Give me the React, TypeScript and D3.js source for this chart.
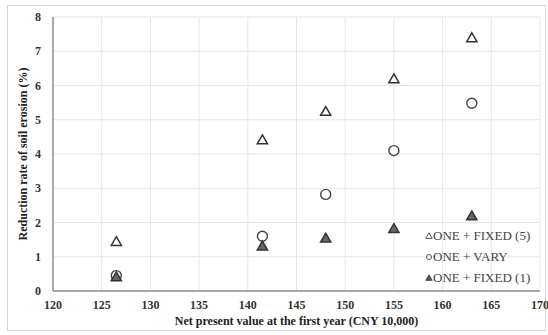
import React, { useEffect, useRef } from 'react';
import * as d3 from 'd3';

// chart data
const npv = [126.5, 141.5, 148, 155, 163];
const fixed5 = [1.45, 4.42, 5.25, 6.2, 7.4];
const vary = [0.45, 1.6, 2.82, 4.1, 5.48];
const fixed1 = [0.42, 1.32, 1.55, 1.83, 2.2];
const xTicks = [120, 125, 130, 135, 140, 145, 150, 155, 160, 165, 170];
const yTicks = [0, 1, 2, 3, 4, 5, 6, 7, 8];
const seriesNames = ['ONE + FIXED (5)', 'ONE + VARY', 'ONE + FIXED (1)'];

const W = 548;
const H = 335;
const FONT = "'Liberation Serif', 'DejaVu Serif', serif";

export default function App() {
  const ref = useRef<SVGSVGElement>(null);

  useEffect(() => {
    const svg = d3.select(ref.current);
    svg.selectAll('*').remove();

    const left = 53, right = 540, top = 17, bottom = 291;
    const x = d3.scaleLinear().domain([120, 170]).range([left, right]);
    const y = d3.scaleLinear().domain([0, 8]).range([bottom, top]);

    // outer frame
    svg.append('rect')
      .attr('x', 7.5).attr('y', 5.5)
      .attr('width', 538).attr('height', 325)
      .attr('fill', '#fff').attr('stroke', '#d9d9d9');

    // grid
    const g = svg.append('g');
    g.selectAll('.vg').data(xTicks.slice(1)).enter().append('line')
      .attr('x1', d => x(d)).attr('x2', d => x(d))
      .attr('y1', top).attr('y2', bottom)
      .attr('stroke', '#e6e6e6').attr('stroke-width', 1);
    g.selectAll('.hg').data(yTicks.slice(1)).enter().append('line')
      .attr('x1', left).attr('x2', right)
      .attr('y1', d => y(d)).attr('y2', d => y(d))
      .attr('stroke', '#e6e6e6').attr('stroke-width', 1);

    // axes lines
    svg.append('line').attr('x1', left).attr('x2', left).attr('y1', top).attr('y2', bottom)
      .attr('stroke', '#8c8c8c').attr('stroke-width', 1.5);
    svg.append('line').attr('x1', left).attr('x2', right).attr('y1', bottom).attr('y2', bottom)
      .attr('stroke', '#8c8c8c').attr('stroke-width', 1.5);

    // tick labels
    svg.selectAll('.xt').data(xTicks).enter().append('text')
      .attr('x', d => x(d)).attr('y', bottom + 18)
      .attr('text-anchor', 'middle')
      .style('font-family', FONT).style('font-size', '12px').style('font-weight', 'bold')
      .attr('fill', '#333')
      .text(d => d);
    svg.selectAll('.yt').data(yTicks).enter().append('text')
      .attr('x', left - 12).attr('y', d => y(d) + 4)
      .attr('text-anchor', 'end')
      .style('font-family', FONT).style('font-size', '12px').style('font-weight', 'bold')
      .attr('fill', '#333')
      .text(d => d);

    // axis titles
    svg.append('text')
      .attr('x', (left + right) / 2).attr('y', 325)
      .attr('text-anchor', 'middle')
      .style('font-family', FONT).style('font-size', '12px').style('font-weight', 'bold')
      .attr('fill', '#222')
      .text('Net present value at the first year (CNY 10,000)');
    svg.append('text')
      .attr('transform', `translate(27,${(top + bottom) / 2}) rotate(-90)`)
      .attr('text-anchor', 'middle')
      .style('font-family', FONT).style('font-size', '12px').style('font-weight', 'bold')
      .attr('fill', '#222')
      .text('Reduction rate of soil erosion (%)');

    const tri = d3.symbol().type(d3.symbolTriangle).size(45);
    const triSmall = d3.symbol().type(d3.symbolTriangle).size(18);
    const triOffset = 1.2;

    // series
    svg.selectAll('.f5').data(npv).enter().append('path')
      .attr('d', tri)
      .attr('transform', (d, i) => `translate(${x(d)},${y(fixed5[i]) + triOffset})`)
      .attr('fill', 'none').attr('stroke', '#333').attr('stroke-width', 1.5);
    svg.selectAll('.vy').data(npv).enter().append('circle')
      .attr('cx', d => x(d)).attr('cy', (d, i) => y(vary[i]))
      .attr('r', 5)
      .attr('fill', 'none').attr('stroke', '#444').attr('stroke-width', 1.4);
    svg.selectAll('.f1').data(npv).enter().append('path')
      .attr('d', tri)
      .attr('transform', (d, i) => `translate(${x(d)},${y(fixed1[i]) + triOffset})`)
      .attr('fill', '#666').attr('stroke', '#333').attr('stroke-width', 1.5);

    // legend
    const legY = [240, 261, 282];
    const lg = svg.append('g');
    seriesNames.forEach((name, i) => {
      const cx = 429, cy = legY[i];
      if (i === 1) {
        lg.append('circle').attr('cx', cx).attr('cy', cy - 4).attr('r', 2.5)
          .attr('fill', 'none').attr('stroke', '#555').attr('stroke-width', 1);
      } else {
        lg.append('path').attr('d', triSmall)
          .attr('transform', `translate(${cx},${cy - 3.5})`)
          .attr('fill', i === 0 ? 'none' : '#555')
          .attr('stroke', '#555').attr('stroke-width', 1);
      }
      lg.append('text')
        .attr('x', cx + 4).attr('y', cy)
        .style('font-family', FONT).style('font-size', '13px')
        .attr('fill', '#444')
        .text(name);
    });
  }, []);

  return (
    <svg
      ref={ref}
      width={W}
      height={H}
      style={{ position: 'absolute', left: 0, top: 0, background: '#fff' }}
    />
  );
}
